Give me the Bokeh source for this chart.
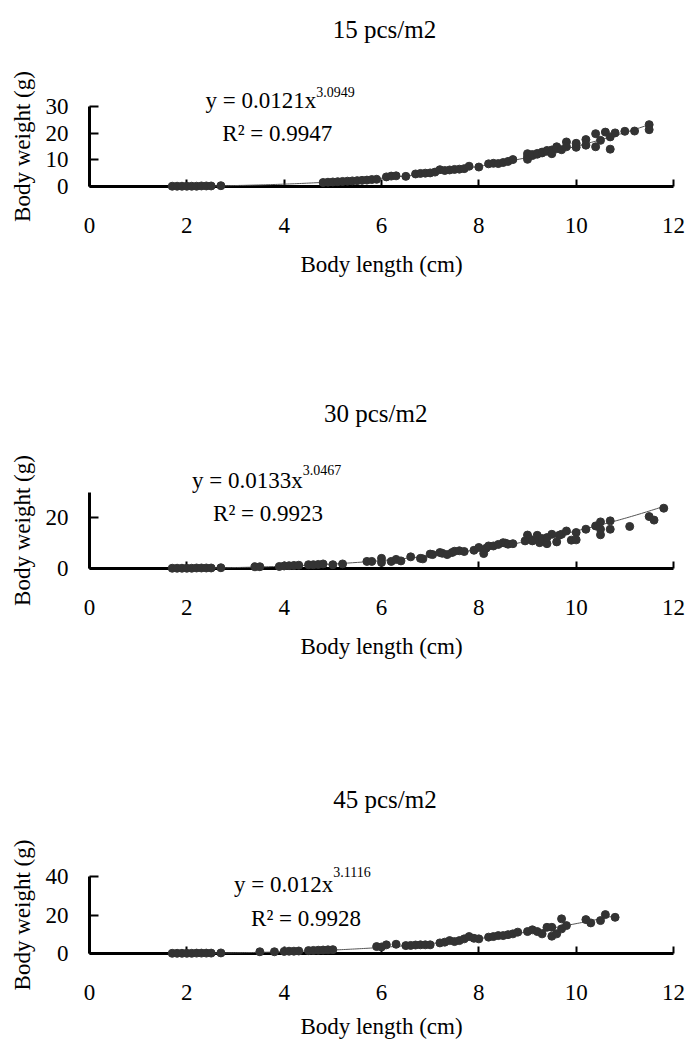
import numpy as np
from bokeh.plotting import figure
from bokeh.layouts import column
from bokeh.models import Range1d, FixedTicker
from bokeh.core.properties import value
from bokeh.embed import file_html
from bokeh.resources import INLINE

# ---------------- data ----------------
titles = ["15 pcs/m2", "30 pcs/m2", "45 pcs/m2"]

len_15 = [1.7, 1.8, 1.9, 2.0, 2.1, 2.2, 2.3, 2.4, 2.5, 2.7,
          4.8, 4.9, 5.0, 5.1, 5.2, 5.3, 5.4, 5.5, 5.6, 5.7, 5.8, 5.9,
          6.1, 6.2, 6.3, 6.5, 6.7, 6.8, 6.9, 7.0, 7.1, 7.2, 7.3, 7.4, 7.5, 7.6, 7.7, 7.8,
          8.0, 8.2, 8.3, 8.4, 8.5, 8.6, 8.7,
          9.0, 9.0, 9.0, 9.1, 9.1, 9.2, 9.2, 9.3, 9.3, 9.4, 9.4, 9.5, 9.5, 9.6, 9.6, 9.7,
          9.8, 9.8, 10.0, 10.0, 10.2, 10.2, 10.4, 10.4, 10.5, 10.6, 10.7, 10.7, 10.8, 11.0,
          11.2, 11.5, 11.5]
wt_15 = [0.1, 0.1, 0.1, 0.1, 0.1, 0.1, 0.2, 0.2, 0.2, 0.3,
         1.5, 1.6, 1.7, 1.8, 1.9, 2.0, 2.1, 2.2, 2.3, 2.4, 2.6, 2.7,
         3.6, 3.9, 4.0, 3.8, 4.7, 4.9, 5.0, 5.1, 5.4, 6.3, 6.0, 6.2, 6.4, 6.5, 6.7, 7.6,
         7.3, 8.5, 8.7, 8.6, 9.0, 9.4, 10.1,
         11.1, 12.3, 10.2, 11.6, 12.0, 12.1, 12.4, 12.6, 12.9, 13.2, 13.5, 13.7, 12.3, 14.9, 14.2, 13.8,
         16.7, 14.9, 14.7, 16.2, 17.6, 15.5, 19.8, 14.9, 17.3, 20.4, 18.6, 14.0, 20.1, 20.7,
         20.8, 23.2, 21.3]

len_30 = [1.7, 1.8, 1.9, 2.0, 2.1, 2.2, 2.3, 2.4, 2.5, 2.7,
          3.4, 3.5, 3.9, 4.0, 4.1, 4.2, 4.3, 4.5, 4.6, 4.7, 4.8, 5.0, 5.2,
          5.7, 5.8, 6.0, 6.0, 6.2, 6.3, 6.4, 6.6, 6.8, 6.85,
          7.0, 7.05, 7.2, 7.25, 7.35, 7.45, 7.5, 7.6, 7.7, 7.9, 8.0, 8.1, 8.15, 8.2, 8.3, 8.4,
          8.5, 8.55, 8.6, 8.7,
          8.95, 9.0, 9.05, 9.1, 9.2, 9.25, 9.3, 9.4, 9.4, 9.5, 9.6, 9.65, 9.7, 9.8, 9.9, 10.0, 10.0,
          10.2, 10.4, 10.5, 10.5, 10.5, 10.7, 10.7, 11.1, 11.5, 11.6, 11.8]
wt_30 = [0.1, 0.1, 0.1, 0.1, 0.1, 0.2, 0.2, 0.2, 0.2, 0.3,
         0.7, 0.7, 0.8, 1.0, 1.1, 1.2, 1.3, 1.5, 1.5, 1.6, 1.8, 1.5, 1.8,
         2.8, 2.8, 4.0, 2.4, 2.8, 3.6, 3.0, 4.6, 4.0, 3.8,
         5.7, 5.5, 6.3, 6.0, 5.5, 6.3, 6.8, 7.0, 6.7, 7.2, 8.3, 5.9, 8.0, 8.9, 8.9, 9.5,
         10.2, 10.0, 9.6, 9.8,
         10.9, 13.2, 11.5, 10.9, 13.1, 10.2, 11.8, 9.8, 12.2, 13.5, 10.5, 13.1, 13.5, 14.8, 11.2, 14.2, 11.3,
         15.5, 16.8, 18.4, 15.5, 13.3, 18.8, 15.5, 16.6, 20.5, 19.1, 23.8]

len_45 = [1.7, 1.8, 1.9, 2.0, 2.1, 2.2, 2.3, 2.4, 2.5, 2.7,
          3.5, 3.8, 4.0, 4.1, 4.2, 4.3, 4.5, 4.6, 4.7, 4.8, 4.9, 5.0,
          5.9, 6.0, 6.1, 6.3, 6.5, 6.6, 6.7, 6.8, 6.9, 7.0,
          7.2, 7.3, 7.4, 7.5, 7.6, 7.7, 7.8, 7.9, 8.0, 8.2, 8.3, 8.4, 8.5, 8.6, 8.7, 8.8,
          9.0, 9.1, 9.2, 9.3, 9.4, 9.5, 9.5, 9.6, 9.7, 9.7, 9.8, 10.2, 10.3, 10.5, 10.6, 10.8]
wt_45 = [0.1, 0.1, 0.1, 0.1, 0.1, 0.2, 0.2, 0.2, 0.2, 0.3,
         0.9, 0.9, 1.1, 1.2, 1.2, 1.3, 1.5, 1.6, 1.7, 1.8, 1.9, 2.0,
         3.6, 3.4, 4.5, 4.8, 4.1, 4.2, 4.4, 4.5, 4.5, 4.5,
         5.5, 5.9, 6.7, 6.2, 6.7, 7.6, 8.8, 7.9, 7.6, 8.5, 8.8, 9.3, 9.3, 9.8, 10.2, 11.1,
         11.4, 12.3, 11.4, 10.2, 13.6, 13.6, 9.0, 10.2, 18.0, 12.8, 14.5, 17.6, 15.9, 17.1, 20.2, 18.8]

coef_a = [0.0121, 0.0133, 0.012]
coef_b = [3.0949, 3.0467, 3.1116]
r_squared = ["0.9947", "0.9923", "0.9928"]

x_ticks = [0, 2, 4, 6, 8, 10, 12]
y_ticks_15 = [0, 10, 20, 30]
y_ticks_30 = [0, 20]
y_ticks_45 = [0, 20, 40]
y_tops = [30, 30, 40]

x_label = "Body length (cm)"
y_label = "Body weight (g)"

# ---------------- layout / style constants ----------------
FONT = "Liberation Serif"
DOT = "#333333"
panels = [
    dict(h=380, top=106, bot=194, left=89, right=12, als=16,
         title=(6.06, 58.9), eq_x=4.66, eq_y=32.25, sup_y=35.6, r2=(2.73, 19.9)),
    dict(h=390, top=112, bot=202, left=89, right=10, als=16,
         title=(5.88, 61.2), eq_x=4.38, eq_y=34.7, sup_y=38.7, r2=(2.54, 21.7)),
    dict(h=276, top=106, bot=93, left=88, right=8, als=11,
         title=(6.07, 80.0), eq_x=5.01, eq_y=35.6, sup_y=42.1, r2=(3.32, 18.4)),
]

lengths = [len_15, len_30, len_45]
weights = [wt_15, wt_30, wt_45]
yticks = [y_ticks_15, y_ticks_30, y_ticks_45]

figs = []
for i, cfg in enumerate(panels):
    p = figure(width=685, height=cfg["h"], output_backend="svg", toolbar_location=None,
               x_range=Range1d(0, 12), y_range=Range1d(0, y_tops[i]),
               min_border_left=cfg["left"], min_border_right=cfg["right"],
               min_border_top=cfg["top"], min_border_bottom=cfg["bot"])
    p.outline_line_color = None
    p.xgrid.visible = False
    p.ygrid.visible = False
    p.background_fill_color = "white"
    p.border_fill_color = "white"

    # trend line from the fitted power-law coefficients
    xs = np.linspace(min(lengths[i]), max(lengths[i]), 200)
    p.line(xs, coef_a[i] * xs ** coef_b[i], line_color="#555555", line_width=1,
           level="overlay")
    p.scatter(lengths[i], weights[i], size=8, fill_color=DOT, line_color=DOT,
              level="overlay")

    for ax in (p.xaxis[0], p.yaxis[0]):
        ax.axis_line_width = 3
        ax.axis_line_color = "black"
        ax.major_tick_line_width = 2
        ax.major_tick_line_color = "black"
        ax.minor_tick_line_color = None
        ax.major_tick_out = 0
        ax.major_label_text_font = FONT
        ax.major_label_text_font_size = "23px"
        ax.major_label_text_color = "black"
        ax.axis_label_text_font = FONT
        ax.axis_label_text_font_size = "23px"
        ax.axis_label_text_font_style = "normal"
        ax.axis_label_text_color = "black"

    xa = p.xaxis[0]
    xa.ticker = FixedTicker(ticks=x_ticks)
    xa.major_tick_in = 7
    xa.major_label_standoff = 31
    xa.axis_label = x_label
    xa.axis_label_standoff = cfg["als"]

    ya = p.yaxis[0]
    ya.ticker = FixedTicker(ticks=yticks[i])
    ya.major_tick_in = 9
    ya.major_label_standoff = 21
    ya.axis_label = y_label
    ya.axis_label_standoff = 8

    common = dict(text_font=value(FONT), text_color="black", text_baseline="middle",
                  level="overlay")
    p.text(x=[cfg["title"][0]], y=[cfg["title"][1]], text=[titles[i]],
           text_font_size="25px", text_align="center", **common)
    p.text(x=[cfg["eq_x"]], y=[cfg["eq_y"]], text=["y = %sx" % coef_a[i]],
           text_font_size="23px", text_align="right", **common)
    p.text(x=[cfg["eq_x"]], y=[cfg["sup_y"]], text=["%s" % coef_b[i]],
           text_font_size="14px", text_align="left", **common)
    p.text(x=[cfg["r2"][0]], y=[cfg["r2"][1]], text=["R\u00b2 = %s" % r_squared[i]],
           text_font_size="23px", text_align="left", **common)
    figs.append(p)

layout = column(*figs, spacing=0)
open("out.html", "w").write(file_html(layout, INLINE))
